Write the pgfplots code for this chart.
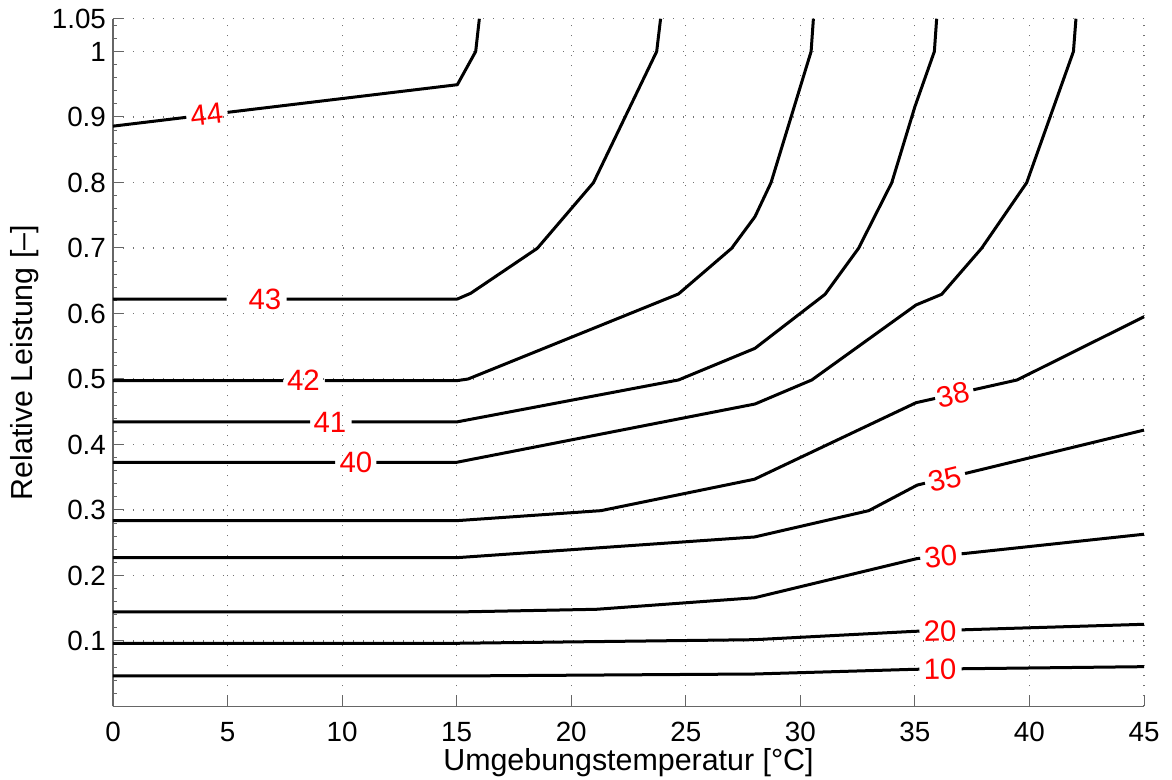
\documentclass[border=0pt]{standalone}
\usepackage{fontspec}
\setmainfont{Liberation Sans}
\usepackage{pgfplots}
\pgfplotsset{compat=1.18}
\tikzset{lbl/.style={text=red, inner sep=0pt, font=\fontsize{14.7}{16}\selectfont}}
\begin{document}
\begin{tikzpicture}
\begin{axis}[
  at={(0pt,0pt)}, anchor=south west,
  scale only axis, width=515.5pt, height=343.875pt,
  xmin=0, xmax=45, ymin=0, ymax=1.05,
  axis x line*=bottom, axis y line*=left,
  axis line style={black!60, line width=0.6pt, -},
  xtick={0,5,10,15,20,25,30,35,40,45},
  xticklabels={0,5,10,15,20,25,30,35,40,45},
  ytick={0.1,0.2,0.3,0.4,0.5,0.6,0.7,0.8,0.9,1,1.05},
  yticklabels={0.1,0.2,0.3,0.4,0.5,0.6,0.7,0.8,0.9,1,1.05},
  minor ytick={0.02,0.04,0.06,0.08,0.12,0.14,0.16,0.18,0.22,0.24,0.26,0.28,0.32,0.34,0.36,0.38,0.42,0.44,0.46,0.48,0.52,0.54,0.56,0.58,0.62,0.64,0.66,0.68,0.72,0.74,0.76,0.78,0.82,0.84,0.86,0.88,0.92,0.94,0.96,0.98,1.02,1.04},
  tick align=inside,
  major tick length=5.5pt, minor tick length=1.8pt,
  every tick/.style={black!60, line width=0.5pt},
  grid=major,
  major grid style={black!55, line width=0.6pt, dash pattern=on 0.6pt off 4.4pt},
  tick label style={font=\fontsize{13.9}{15}\selectfont},
  /pgf/number format/assume math mode=true,
  xticklabel style={anchor=base, yshift=-17.6pt},
  every axis x label/.style={at={(axis description cs:0.5,0)}, anchor=base, yshift=-32pt, font=\fontsize{15.2}{17}\selectfont},
  every axis y label/.style={at={(axis description cs:-0.0783,0.5)}, rotate=90, anchor=base, font=\fontsize{15.2}{17}\selectfont},
  xlabel={Umgebungstemperatur [°C]},
  ylabel={Relative Leistung [--]},
  unbounded coords=jump,
  every axis plot post/.append style={black, solid, line width=1.5pt, line join=round, mark=none},
  clip=false,
]
% 10
\addplot coordinates {(0,0.0466) (15,0.0466) (28,0.0496) (35,0.0568) (35.2,0.0569) (36,nan) (37.04,0.0576) (45,0.0608)};
% 20
\addplot coordinates {(0,0.0965) (15,0.0965) (28,0.102) (35,0.1148) (35.2,0.1150) (36,nan) (37.04,0.1170) (45,0.1255)};
% 30
\addplot coordinates {(0,0.1443) (15,0.1443) (21.1,0.1484) (28,0.166) (35.08,0.2257) (35.23,0.2263) (36,nan) (37.04,0.2331) (45,0.263)};
% 35
\addplot coordinates {(0,0.2272) (15,0.2272) (28,0.2588) (32.99,0.299) (35.1,0.338) (35.44,0.3409) (36,nan) (37.19,0.3557) (45,0.422)};
% 38
\addplot coordinates {(0,0.2837) (15,0.2837) (21.3,0.299) (28,0.347) (35.05,0.4638) (35.88,0.4703) (36.5,nan) (37.55,0.4835) (39.46,0.4985) (45,0.595)};
% 40
\addplot coordinates {(0,0.3728) (9.7,0.3728) (10.6,nan) (11.5,0.3728) (15,0.3728) (28.02,0.4618) (30.5,0.4985) (35.05,0.613) (36.17,0.6293) (37.91,0.6995) (39.88,0.7997) (41.92,1.0) (42.03,1.05)};
% 41
\addplot coordinates {(0,0.4344) (8.6,0.4344) (9.5,nan) (10.42,0.4344) (15,0.4344) (24.68,0.4985) (28.02,0.5468) (31.08,0.6293) (32.54,0.6995) (33.99,0.7997) (35.0,0.9157) (35.85,1.0) (35.95,1.05)};
% 42
\addplot coordinates {(0,0.4974) (7.43,0.4974) (8.3,nan) (9.25,0.4974) (15,0.4974) (15.5,0.5) (24.68,0.6298) (27.0,0.6995) (28.02,0.7478) (28.72,0.7997) (30.47,1.0) (30.57,1.05)};
% 43
\addplot coordinates {(0,0.6221) (4.96,0.6221) (6.3,nan) (7.58,0.6221) (15.03,0.6221) (15.61,0.6308) (18.52,0.6995) (20.97,0.7997) (23.73,1.0) (23.9,1.05)};
% 44
\addplot coordinates {(0,0.886) (3.2,0.8995) (4,nan) (5.0,0.9071) (15.03,0.9493) (15.83,1.0) (15.99,1.05)};

\node[lbl, rotate=6.8] at (axis cs:4.09,0.904) {44};
\node[lbl] at (axis cs:6.63,0.6215) {43};
\node[lbl] at (axis cs:8.31,0.4974) {42};
\node[lbl] at (axis cs:9.47,0.4344) {41};
\node[lbl] at (axis cs:10.6,0.3728) {40};
\node[lbl, rotate=12.7] at (axis cs:36.68,0.476) {38};
\node[lbl, rotate=13.6] at (axis cs:36.32,0.347) {35};
\node[lbl, rotate=6.1] at (axis cs:36.13,0.229) {30};
\node[lbl, rotate=1.8] at (axis cs:36.1,0.115) {20};
\node[lbl, rotate=0.8] at (axis cs:36.1,0.0565) {10};
\end{axis}
\pgfresetboundingbox
\path (-56.5pt,-36.75pt) rectangle (529.5pt,353.25pt);
\end{tikzpicture}
\end{document}
